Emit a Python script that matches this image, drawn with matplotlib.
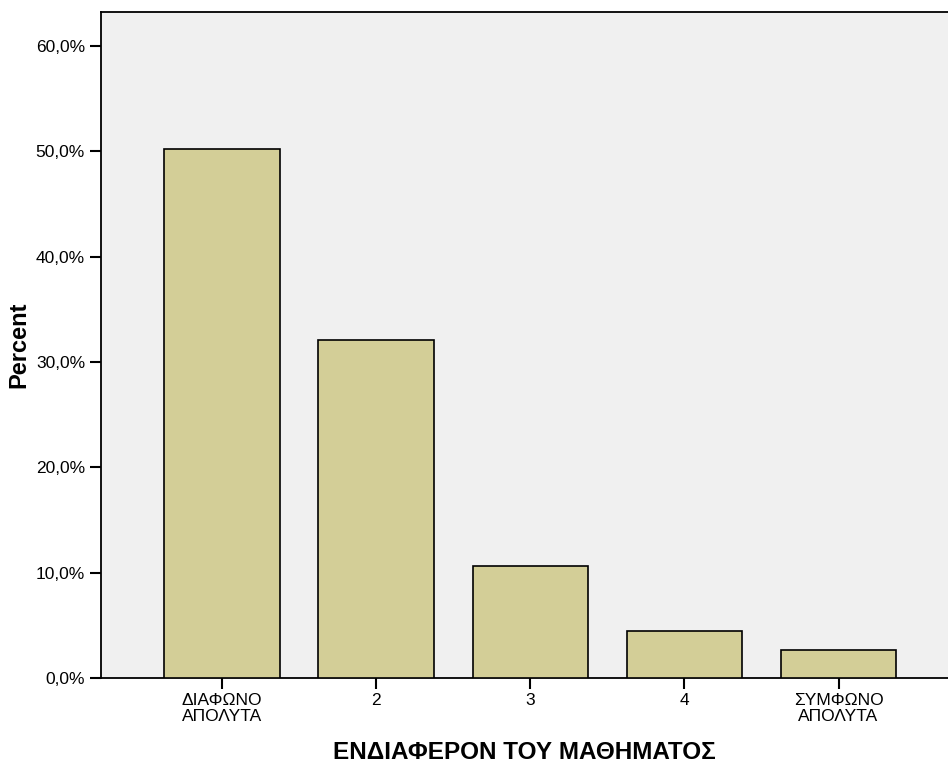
import matplotlib
matplotlib.use('Agg')
import matplotlib.pyplot as plt
from matplotlib.ticker import FuncFormatter

plt.rcParams['font.family'] = ['Liberation Sans', 'DejaVu Sans']

categories = ['ΔΙΑΦΩΝΟ\nΑΠΟΛΥΤΑ', '2', '3', '4', 'ΣΥΜΦΩΝΟ\nΑΠΟΛΥΤΑ']
percent = [50.2, 32.1, 10.6, 4.5, 2.7]
yticks = [0, 10, 20, 30, 40, 50, 60]

fig = plt.figure(figsize=(9.48, 7.66), dpi=100)
ax = fig.add_axes([101/948, 88/766, 1 - 101/948, (678-12)/766])
ax.set_facecolor('#F0F0F0')

x = list(range(len(categories)))
ax.bar(x, percent, width=0.75, color='#D3CE97', edgecolor='black', linewidth=1.2, zorder=3)

ax.set_xlim(-0.786, 4.71)
ax.set_ylim(0, (678-12)/105.33*10)
ax.set_yticks(yticks)
ax.yaxis.set_major_formatter(FuncFormatter(lambda v, p: ('%.1f%%' % v).replace('.', ',')))
ax.set_xticks(x)
ax.set_xticklabels(categories, linespacing=1.05)

ax.spines['right'].set_visible(False)
for s in ['left', 'top', 'bottom']:
    ax.spines[s].set_linewidth(1.3)
ax.tick_params(axis='both', length=8, width=1.5, labelsize=12.5, colors='black')
ax.tick_params(axis='x', pad=3)

ax.set_xlabel('ΕΝΔΙΑΦΕΡΟΝ ΤΟΥ ΜΑΘΗΜΑΤΟΣ', fontsize=17.5, fontweight='bold', labelpad=12)
ax.set_ylabel('Percent', fontsize=17, fontweight='bold', labelpad=4)

fig.savefig('out.png', dpi=100)
